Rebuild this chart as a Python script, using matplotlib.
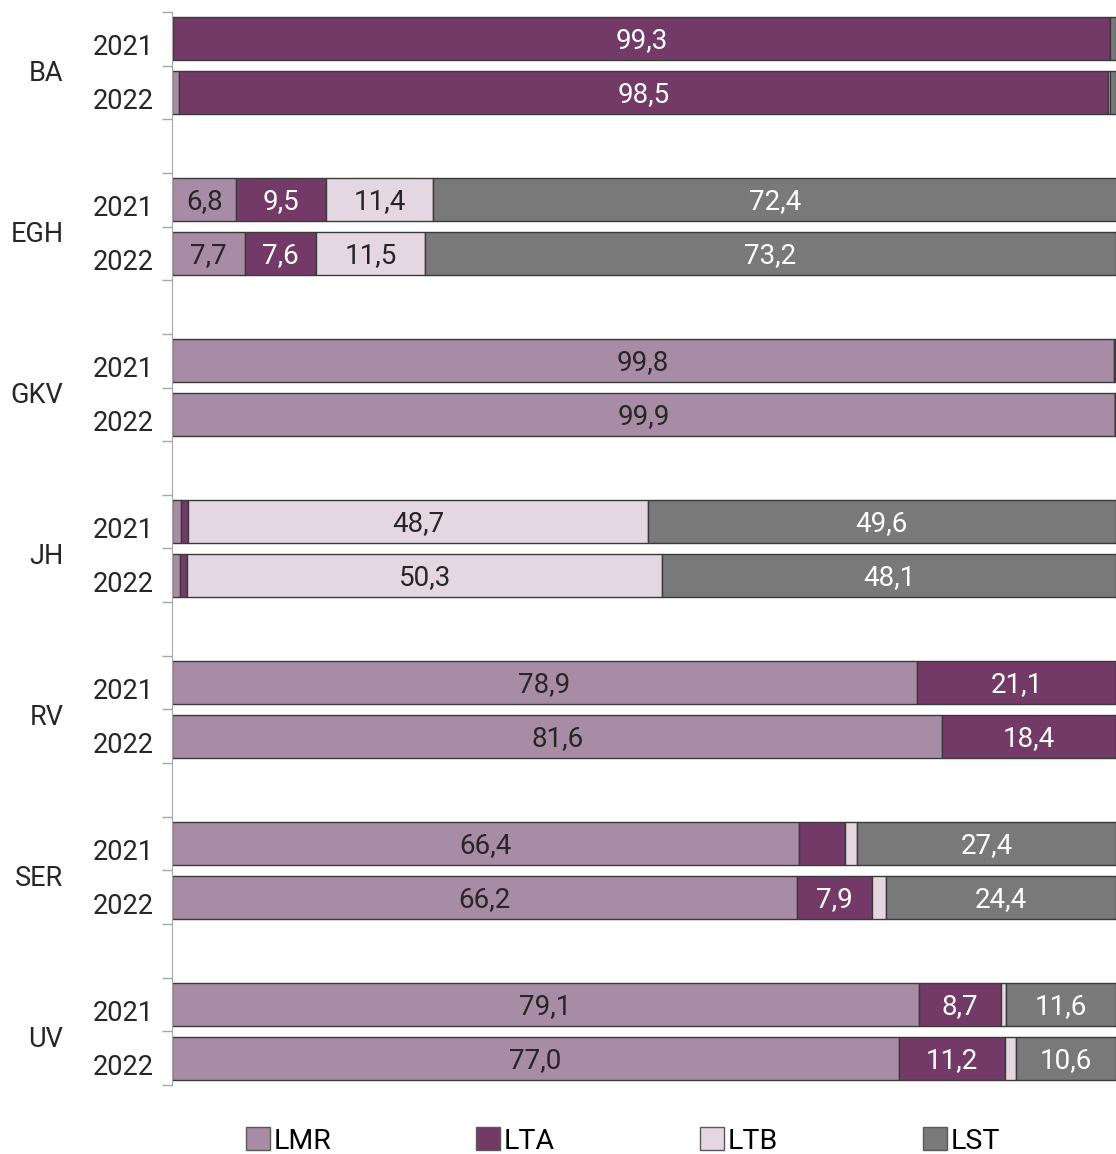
import matplotlib.pyplot as plt
from matplotlib.patches import Patch

plt.rcParams['font.family'] = ['Roboto', 'DejaVu Sans']

groups = ['BA', 'EGH', 'GKV', 'JH', 'RV', 'SER', 'UV']
years = ['2021', '2022']

# shares per bar, order: BA 2021, BA 2022, EGH 2021, ...
lmr = [0.1, 0.7, 6.8, 7.7, 99.8, 99.9, 1.0, 0.9, 78.9, 81.6, 66.4, 66.2, 79.1, 77.0]
lta = [99.3, 98.5, 9.5, 7.6, 0.1, 0.0, 0.7, 0.7, 21.1, 18.4, 4.9, 7.9, 8.7, 11.2]
ltb = [0.0, 0.2, 11.4, 11.5, 0.0, 0.0, 48.7, 50.3, 0.0, 0.0, 1.3, 1.5, 0.6, 1.2]
lst = [0.6, 0.6, 72.4, 73.2, 0.1, 0.1, 49.6, 48.1, 0.0, 0.0, 27.4, 24.4, 11.6, 10.6]

series = ['LMR', 'LTA', 'LTB', 'LST']
colors = ['#A88BA5', '#733A67', '#E4D7E1', '#7A7979']
text_colors = ['#262626', 'white', '#262626', 'white']

fig = plt.figure(figsize=(11.16, 11.54), dpi=100)
ax = fig.add_axes([172 / 1116, 69 / 1154, 944 / 1116, 1073 / 1154])

# slot positions: two bars per group, one empty slot between groups
ypos = []
for g in range(len(groups)):
    ypos += [g * 3, g * 3 + 1]

values = [lmr, lta, ltb, lst]
left = [0.0] * len(ypos)
for vals, col, tc, name in zip(values, colors, text_colors, series):
    ax.barh(ypos, vals, left=left, height=0.8, color=col,
            edgecolor='#3a3a3a', linewidth=1, label=name)
    for y, v, l in zip(ypos, vals, left):
        if v >= 5:
            ax.text(l + v / 2, y + 0.04, f'{v:.1f}'.replace('.', ','), ha='center',
                    va='center', color=tc, fontsize=20)
    left = [a + b for a, b in zip(left, vals)]

ax.set_xlim(0, 100)
ax.set_ylim(ypos[-1] + 0.5, -0.5)
ax.set_xticks([])
ax.set_yticks([i - 0.5 for i in range(ypos[-1] + 2)])
ax.set_yticklabels([])
ax.tick_params(axis='y', direction='out', length=7, width=1, color='#A6A6A6')
for s in ['top', 'right', 'bottom']:
    ax.spines[s].set_visible(False)
ax.spines['left'].set_color('#A6A6A6')

tr = ax.get_yaxis_transform()
for g, name in enumerate(groups):
    for k, yr in enumerate(years):
        ax.text(-0.019, g * 3 + k + 0.17, yr, transform=tr, ha='right',
                va='center', fontsize=19.5, color='#262626')
    ax.text(-0.115, g * 3 + 0.5 + 0.15, name, transform=tr, ha='right',
            va='center', fontsize=19.5, color='#262626')

handles = [Patch(facecolor=c, edgecolor='#595959', linewidth=1) for c in colors]
fig.legend(handles, series, loc='center', bbox_to_anchor=(623 / 1116, 13 / 1154),
           ncol=4, frameon=False, fontsize=20.5, handlelength=0.85,
           handleheight=0.85, handletextpad=0.12, columnspacing=5.1)

fig.savefig('out.png', dpi=100)
